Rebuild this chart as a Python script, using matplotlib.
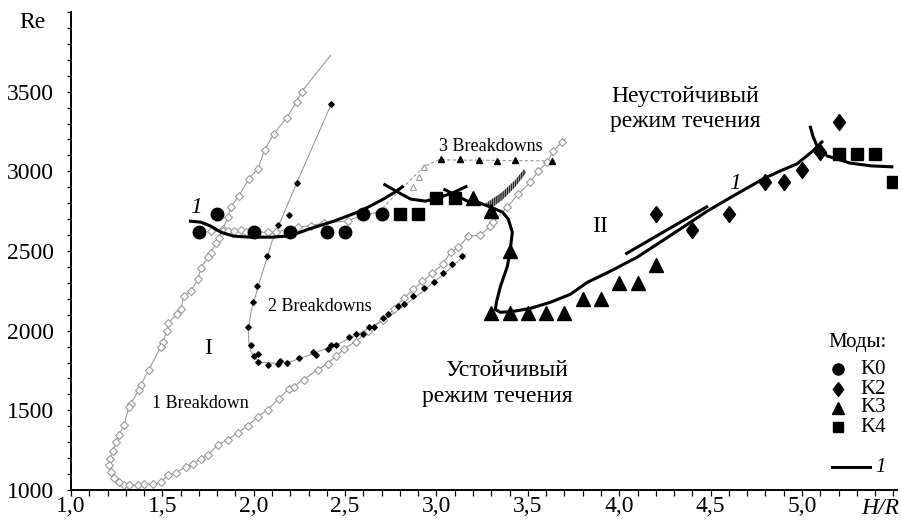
import matplotlib
matplotlib.use("Agg")
import matplotlib.pyplot as plt
from matplotlib.ticker import MultipleLocator, FixedLocator, FuncFormatter
from matplotlib.lines import Line2D

plt.rcParams['font.family'] = ['Liberation Serif', 'DejaVu Serif']
plt.rcParams['hatch.linewidth'] = 1.1

# 1 Breakdown boundary (open diamonds), path order: top of left branch -> minimum -> lower branch
bd1_x = [2.42, 2.262, 2.235, 2.180, 2.109, 2.060, 2.022, 1.973, 1.918, 1.874, 1.858, 1.831, 1.809, 1.792,
         1.765, 1.749, 1.710, 1.694, 1.656, 1.617, 1.601, 1.579, 1.530, 1.525, 1.503, 1.492, 1.426, 1.383,
         1.372, 1.328, 1.317, 1.290, 1.262, 1.246, 1.230, 1.213, 1.208, 1.219, 1.235, 1.262, 1.290, 1.317,
         1.366, 1.399, 1.448, 1.492, 1.530, 1.574, 1.628, 1.667, 1.710, 1.749, 1.803, 1.858, 1.913, 1.967,
         2.022, 2.077, 2.137, 2.191, 2.219, 2.273, 2.350, 2.404, 2.448, 2.492, 2.557, 2.623, 2.710, 2.765,
         2.820, 2.874, 2.923, 2.978, 3.033, 3.077, 3.120, 3.175, 3.240, 3.295, 3.311, 3.388, 3.448, 3.514,
         3.557, 3.607, 3.639, 3.689, 3.705]
bd1_y = [3727, 3500, 3437, 3336, 3235, 3135, 3015, 2952, 2845, 2776, 2713, 2637, 2581, 2549,
         2486, 2461, 2392, 2323, 2247, 2216, 2134, 2103, 2046, 1995, 1932, 1900, 1756, 1661,
         1630, 1542, 1523, 1409, 1346, 1302, 1246, 1195, 1157, 1113, 1076, 1050, 1031, 1031,
         1031, 1038, 1038, 1050, 1094, 1107, 1145, 1164, 1195, 1220, 1283, 1315, 1359, 1403,
         1460, 1504, 1573, 1636, 1649, 1693, 1756, 1793, 1838, 1882, 1932, 1995, 2070, 2133,
         2203, 2259, 2310, 2360, 2417, 2492, 2524, 2593, 2600, 2656, 2681, 2776, 2858, 2933,
         3002, 3059, 3128, 3185, 3204]

# upper edge of the 1 Breakdown region near Re ~ 2600
bd1u_x = [1.765, 1.831, 1.858, 1.891, 1.929, 1.956, 2.077, 2.120, 2.240, 2.311, 2.383, 2.514, 2.585, 2.683]
bd1u_y = [2625, 2625, 2625, 2625, 2631, 2618, 2618, 2618, 2650, 2660, 2675, 2688, 2720, 2744]

# 2 Breakdowns boundary (small black points)
bd2_x = [2.425, 2.235, 2.131, 2.071, 2.016, 1.995, 1.967, 1.984, 2.000, 2.022, 2.022, 2.077, 2.131,
         2.142, 2.180, 2.246, 2.322, 2.339, 2.404, 2.421, 2.448, 2.519, 2.557, 2.596, 2.628, 2.656,
         2.705, 2.732, 2.792, 2.820, 2.874, 2.929, 2.984, 3.038, 3.087, 3.142]
bd2_y = [3424, 2927, 2662, 2467, 2278, 2178, 2026, 1913, 1838, 1856, 1806, 1787, 1793,
         1812, 1800, 1831, 1863, 1850, 1882, 1913, 1913, 1963, 1982, 1976, 2026, 2026,
         2077, 2102, 2152, 2165, 2215, 2266, 2303, 2360, 2417, 2467]
bd2_extra_x = [2.191]
bd2_extra_y = [2725]
# smooth line of the 2 Breakdowns boundary
bd2_line_x = [2.425, 2.235, 2.10, 2.03, 1.985, 1.97, 1.975, 2.00, 2.05, 2.12, 2.20, 2.30, 2.45,
              2.60, 2.75, 2.90, 3.05, 3.16]
bd2_line_y = [3424, 2927, 2560, 2300, 2120, 2000, 1900, 1830, 1800, 1795, 1805, 1845, 1910,
              1995, 2095, 2225, 2365, 2480]

# 3 Breakdowns boundary
bd3_open_x = [2.683, 2.720, 2.869, 2.902, 2.929]
bd3_open_y = [2744, 2760, 2902, 2965, 3028]
bd3_line_x = [2.683, 2.929, 3.011, 3.65]
bd3_line_y = [2744, 3028, 3072, 3065]
bd3_fill_x = [3.022, 3.126, 3.230, 3.333, 3.432, 3.634]
bd3_fill_y = [3075, 3078, 3072, 3065, 3072, 3065]

# curve 1 (theory), several branches
c1a_x = [1.645, 1.71, 1.765, 1.82, 1.89, 1.98, 2.10, 2.20, 2.30, 2.44, 2.585, 2.71, 2.765, 2.82]
c1a_y = [2688, 2681, 2656, 2618, 2593, 2587, 2587, 2595, 2637, 2688, 2751, 2826, 2864, 2908]
c1b_x = [2.710, 2.787, 2.858, 2.940, 3.005, 3.087, 3.169]
c1b_y = [2921, 2870, 2826, 2813, 2832, 2864, 2908]
c1c_x = [3.038, 3.104, 3.169, 3.224, 3.295, 3.361, 3.393, 3.415, 3.404, 3.388, 3.350, 3.328, 3.322,
         3.350, 3.421, 3.514, 3.623, 3.732, 3.825, 3.951, 4.098, 4.224, 4.350, 4.481, 4.623, 4.787,
         4.880, 4.973, 5.060, 5.115]
c1c_y = [2889, 2851, 2813, 2807, 2776, 2744, 2700, 2618, 2511, 2404, 2278, 2178, 2133,
         2115, 2121, 2140, 2178, 2228, 2303, 2373, 2461, 2555, 2650, 2750, 2845, 2952,
         3002, 3047, 3128, 3191]
c1d_x = [4.033, 4.486]
c1d_y = [2480, 2782]
c1e_x = [5.044, 5.060, 5.082, 5.137, 5.262, 5.380, 5.500]
c1e_y = [3286, 3220, 3160, 3097, 3052, 3034, 3028]

# hatched sliver
hatch_x = [3.27, 3.36, 3.43, 3.48, 3.49, 3.43, 3.36, 3.30, 3.27]
hatch_y = [2800, 2870, 2945, 3015, 2990, 2900, 2820, 2770, 2800]

# modes
k0_x = [1.7, 1.8, 2.0, 2.2, 2.4, 2.5, 2.6, 2.7]
k0_y = [2620, 2730, 2620, 2620, 2620, 2620, 2730, 2730]
k2_x = [4.2, 4.4, 4.6, 4.8, 4.9, 5.0, 5.1, 5.2]
k2_y = [2730, 2630, 2730, 2930, 2930, 3010, 3120, 3310]
k3_x = [3.2, 3.3, 3.4, 3.3, 3.4, 3.5, 3.6, 3.7, 3.8, 3.9, 4.0, 4.1, 4.2]
k3_y = [2830, 2750, 2500, 2110, 2110, 2110, 2110, 2110, 2200, 2200, 2300, 2300, 2410]
k4_x = [2.8, 2.9, 3.0, 3.1, 5.2, 5.3, 5.4, 5.5]
k4_y = [2730, 2730, 2830, 2830, 3110, 3110, 3110, 2930]

x_ticks = [1.0, 1.5, 2.0, 2.5, 3.0, 3.5, 4.0, 4.5, 5.0]
y_ticks = [1000, 1500, 2000, 2500, 3000, 3500]

diamond = [(0, 1), (0.75, 0), (0, -1), (-0.75, 0), (0, 1)]

fig = plt.figure(figsize=(9.02, 5.24), dpi=100)
ax = fig.add_axes([71 / 902, 34 / 524, 826 / 902, 478 / 524])
ax.set_xlim(1.0, 5.52)
ax.set_ylim(1000, 4000)

gray = '#9a9a9a'
ax.plot(bd1_x, bd1_y, color=gray, lw=0.8, zorder=1)
ax.plot(bd1_x[1:-1], bd1_y[1:-1], ls='none', marker='D', ms=4, mfc='white', mec=gray, mew=0.8, zorder=2)
ax.plot(bd1u_x, bd1u_y, color=gray, lw=0.8, zorder=1)
ax.plot(bd1u_x, bd1u_y, ls='none', marker='D', ms=4, mfc='white', mec=gray, mew=0.8, zorder=2)
ax.plot(bd2_line_x, bd2_line_y, color=gray, lw=0.8, zorder=1)
ax.plot(bd2_x + bd2_extra_x, bd2_y + bd2_extra_y, ls='none', marker='D', ms=2.8, color='black', zorder=2)
ax.plot(bd3_line_x, bd3_line_y, color=gray, lw=0.8, ls=(0, (3, 2)), zorder=1)
ax.plot(bd3_open_x, bd3_open_y, ls='none', marker='^', ms=4, mfc='white', mec=gray, mew=0.8, zorder=2)
ax.plot(bd3_fill_x, bd3_fill_y, ls='none', marker='^', ms=4.5, color='black', zorder=2)

ax.fill(hatch_x, hatch_y, facecolor='white', edgecolor='#222222', hatch='||||||||', lw=0, zorder=2)

for xs, ys in [(c1a_x, c1a_y), (c1b_x, c1b_y), (c1c_x, c1c_y), (c1d_x, c1d_y), (c1e_x, c1e_y)]:
    ax.plot(xs, ys, color='black', lw=2.2, solid_capstyle='butt', zorder=3)

ax.plot(k0_x, k0_y, ls='none', marker='o', ms=9, color='black', zorder=4)
ax.plot(k2_x, k2_y, ls='none', marker=diamond, ms=11.5, color='black', zorder=4)
ax.plot(k3_x, k3_y, ls='none', marker='^', ms=9.5, color='black', zorder=4)
ax.plot(k4_x, k4_y, ls='none', marker='s', ms=8, color='black', zorder=4)

# axes styling
for s in ['top', 'right']:
    ax.spines[s].set_visible(False)
ax.spines['left'].set_linewidth(1.4)
ax.spines['bottom'].set_linewidth(1.4)
ax.xaxis.set_major_locator(FixedLocator(x_ticks))
ax.xaxis.set_minor_locator(MultipleLocator(0.1))
ax.yaxis.set_major_locator(FixedLocator(y_ticks))
ax.yaxis.set_minor_locator(MultipleLocator(100))
ax.xaxis.set_major_formatter(FuncFormatter(lambda v, p: f"{v:.1f}".replace('.', ',')))
ax.yaxis.set_major_formatter(FuncFormatter(lambda v, p: f"{int(v)}"))
ax.tick_params(axis='x', which='both', direction='out', length=4.5, width=0.9, labelsize=17, pad=0)
ax.tick_params(axis='y', which='both', direction='out', length=3.2, width=0.9, labelsize=17, pad=9)

# labels inside the plot
fs = 17
ax.text(4.361, 3467, 'Неустойчивый', fontsize=fs, ha='center', va='center')
ax.text(4.361, 3310, 'режим течения', fontsize=fs, ha='center', va='center')
ax.text(3.386, 1753, 'Устойчивый', fontsize=fs, ha='center', va='center')
ax.text(3.332, 1584, 'режим течения', fontsize=fs, ha='center', va='center')
ax.text(1.750, 1891, 'I', fontsize=fs, ha='center', va='center')
ax.text(3.895, 2651, 'II', fontsize=fs, ha='center', va='center')
ax.text(1.706, 1546, '1 Breakdown', fontsize=13, ha='center', va='center')
ax.text(2.363, 2149, '2 Breakdowns', fontsize=13, ha='center', va='center')
ax.text(3.299, 3153, '3 Breakdowns', fontsize=13, ha='center', va='center')
ax.text(1.684, 2770, '1', fontsize=fs, style='italic', ha='center', va='center')
ax.text(4.634, 2925, '1', fontsize=fs, style='italic', ha='center', va='center')

fig.text(32 / 902, 1 - 22 / 524, 'Re', fontsize=fs, ha='center', va='center')
fig.text(880 / 902, 1 - 509 / 524, 'H/R', fontsize=fs, style='italic', ha='center', va='center')

# legend drawn by hand
lx, tx = 838 / 902, 860 / 902
fig.text(858 / 902, 1 - 343 / 524, 'Моды:', fontsize=15, ha='center', va='center')
for mk, name, py, ms in [('o', 'K0', 369, 8), (diamond, 'K2', 389, 10), ('^', 'K3', 408, 8.5), ('s', 'K4', 427, 7)]:
    fig.add_artist(Line2D([lx], [1 - py / 524], marker=mk, ms=ms, color='black', ls='none'))
    fig.text(tx, 1 - py / 524, name, fontsize=15, ha='left', va='center')
fig.add_artist(Line2D([832 / 902, 870 / 902], [1 - 467 / 524] * 2, color='black', lw=2.2))
fig.text(880 / 902, 1 - 467 / 524, '1', fontsize=15, style='italic', ha='center', va='center')

fig.savefig('out.png', dpi=100)
